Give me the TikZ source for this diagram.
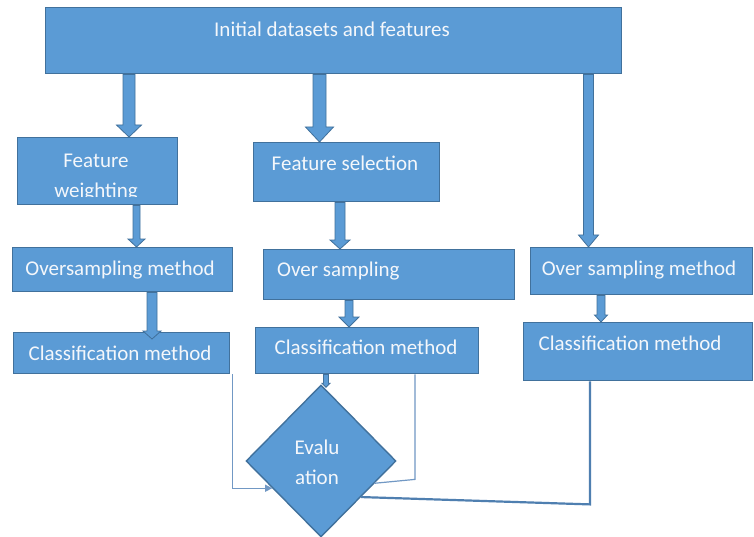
\documentclass[tikz,border=0pt]{standalone}
\usepackage{fontspec}
\setmainfont{Carlito}
\usetikzlibrary{shapes.geometric,arrows.meta,calc}
\definecolor{boxc}{HTML}{5B9BD5}
\definecolor{bordc}{HTML}{41719C}
\definecolor{txtc}{HTML}{F4F7FB}
\definecolor{connc}{HTML}{7198C4}
\definecolor{conndk}{HTML}{4F7FB0}
\newcommand\lblfont{\fontsize{21}{28}\selectfont}
\newcommand\blkarr[5]{%
  \draw[barrow] ($(#1)+(-#3,0)$) -- ($(#2)+(-#3,-#5)$) -- ($(#2)+(-#4,-#5)$) -- (#2)
    -- ($(#2)+(#4,-#5)$) -- ($(#2)+(#3,-#5)$) -- ($(#1)+(#3,0)$) -- cycle;}
\tikzset{
  box/.style={draw=bordc, fill=boxc, line width=1.4pt, inner sep=0pt, anchor=north west},
  lbl/.style={text=txtc, font=\lblfont, inner sep=0pt, anchor=mid, yshift=-4pt},
  barrow/.style={draw=bordc, fill=boxc, line width=0.8pt, line join=miter},
  conn/.style={draw=connc, line width=1.2pt},
}
\begin{document}
\begin{tikzpicture}[x=1pt,y=-1pt]
\useasboundingbox (0,0) rectangle (754,537);
\fill[white] (0,0) rectangle (754,537);

% boxes
\node[box, minimum width=576pt, minimum height=66pt] (top) at (45,7) {};
\node[box, minimum width=160pt, minimum height=67pt] (fw)  at (17,137) {};
\node[box, minimum width=186pt, minimum height=59pt] (fs)  at (253,142) {};
\node[box, minimum width=220pt, minimum height=44pt] (os1) at (12,247) {};
\node[box, minimum width=251pt, minimum height=50pt] (os2) at (263,249) {};
\node[box, minimum width=222pt, minimum height=47pt] (os3) at (530,247) {};
\node[box, minimum width=216pt, minimum height=41pt] (lc)  at (13,332) {};
\node[box, minimum width=223pt, minimum height=46pt] (mc)  at (255,327) {};
\node[box, minimum width=229pt, minimum height=58pt] (rc)  at (523,322) {};
\node[diamond, draw=bordc, fill=boxc, line width=1.4pt, inner sep=0pt,
      minimum width=150pt, minimum height=152pt] (ev) at (321,461) {};

% texts
\node[lbl] (ttop) at (332,30) {Initial datasets and features};
\begin{scope}
  \clip (17,137) rectangle (177,197);
  \node[lbl] (tfw1) at (96,161) {Feature};
  \node[lbl] (tfw2) at (96,191) {weighting};
\end{scope}
\node[lbl] (tfs)  at (345,164) {Feature selection};
\node[lbl] (tos1) at (120,269) {Oversampling method};
\node[lbl, anchor=mid west] (tos2) at (277,270) {Over sampling};
\node[lbl] (tos3) at (639,269) {Over sampling method};
\node[lbl] (tlc)  at (120,354) {Classification method};
\node[lbl] (tmc)  at (366,348) {Classification method};
\node[lbl] (trc)  at (630,344) {Classification method};
\node[lbl] (tev1) at (317,448) {Evalu};
\node[lbl] (tev2) at (317,478) {ation};

% block arrows
\coordinate (a1s) at (top.south -| 129,0);   \coordinate (a1e) at (fw.north -| 129,0);
\coordinate (a2s) at (top.south -| 319.5,0); \coordinate (a2e) at (fs.north -| 319.5,0);
\coordinate (a3s) at (top.south -| 588.5,0); \coordinate (a3e) at (os3.north -| 588.5,0);
\coordinate (a4s) at (fw.south -| 136.5,0);  \coordinate (a4e) at (os1.north -| 136.5,0);
\coordinate (a5s) at (os1.south -| 152,0);   \coordinate (a5e) at ($(lc.north -| 152,0)+(0,7)$);
\coordinate (a6s) at (fs.south -| 340,0);    \coordinate (a6e) at (os2.north -| 340,0);
\coordinate (a7s) at (os2.south -| 349,0);   \coordinate (a7e) at (mc.north -| 349,0);
\coordinate (a8s) at (os3.south -| 601,0);   \coordinate (a8e) at (rc.north -| 601,0);
\coordinate (a9s) at (mc.south -| 326,0);    \coordinate (a9e) at ($(ev.north -| 326,0)+(0,3)$);
\blkarr{a1s}{a1e}{6}{12.5}{12}
\blkarr{a2s}{a2e}{6.5}{14}{15}
\blkarr{a3s}{a3e}{5}{10}{12}
\blkarr{a4s}{a4e}{3.5}{8.5}{8}
\blkarr{a5s}{a5e}{5}{9}{8}
\blkarr{a6s}{a6e}{5}{10}{9}
\blkarr{a7s}{a7e}{4}{10}{10}
\blkarr{a8s}{a8e}{4}{6.5}{7}
\blkarr{a9s}{a9e}{2.5}{4}{4}

% connectors to evaluation
\coordinate (c1e) at ($(ev.west)!0.355!(ev.south)$);
\coordinate (c2e) at ($(ev.east)!0.29!(ev.south)$);
\coordinate (c3e) at ($(ev.east)!0.47!(ev.south)$);
\draw[conn, -{Triangle[length=7pt,width=7pt]}] ($(lc.south east)+(2,0)$) |- (c1e);
\draw[conn] (mc.south -| 415,0) -- ++(0,105) -- (c2e);
\draw[conn, line width=2.2pt, draw=conndk] (rc.south -| 590,0) -- ++(0,123) -- (c3e);
\end{tikzpicture}
\end{document}
